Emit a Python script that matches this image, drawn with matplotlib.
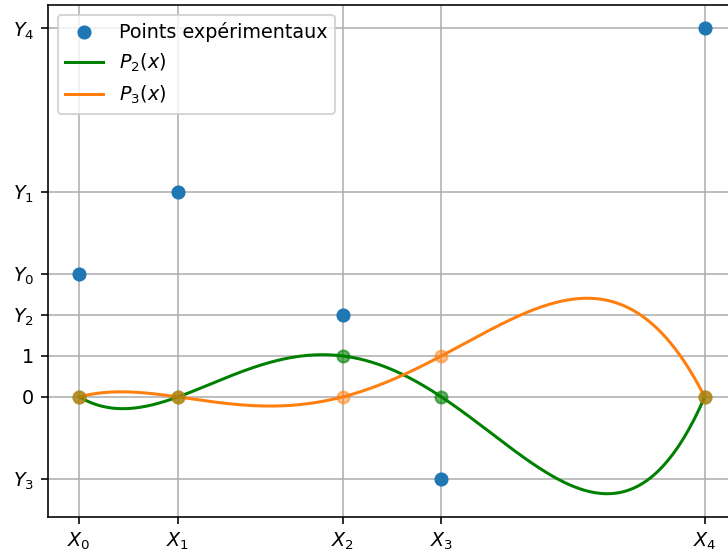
import numpy as np
import matplotlib.pyplot as plt

# noeuds et valeurs mesurees
X = [0, 1.5, 4, 5.5, 9.5]
Y = [3, 5, 2, -2, 9]
x_labels = ['$X_0$', '$X_1$', '$X_2$', '$X_3$', '$X_4$']
y_ticks = [-2, 0, 1, 2, 3, 5, 9]
y_labels = ['$Y_3$', '0', '1', '$Y_2$', '$Y_0$', '$Y_1$', '$Y_4$']


def lagrange(i, t):
    # polynome de base de Lagrange associe au noeud i
    p = np.ones_like(t)
    for j in range(len(X)):
        if j != i:
            p *= (t - X[j]) / (X[i] - X[j])
    return p


plt.rcParams['font.size'] = 9.5

dpi = 145
fig = plt.figure(figsize=(728 / dpi, 554 / dpi), dpi=dpi)
ax = fig.add_axes([48 / 728, 37 / 554, 688 / 728, 512 / 554])

t = np.linspace(X[0], X[-1], 400)
ax.plot(X, Y, 'o', label='Points expérimentaux', zorder=3)
ax.plot(t, lagrange(2, t), color='green', label='$P_2(x)$')
ax.plot(t, lagrange(3, t), color='C1', label='$P_3(x)$')
ax.plot(X, lagrange(2, np.array(X, dtype=float)), 'o', color='green', alpha=0.6)
ax.plot(X, lagrange(3, np.array(X, dtype=float)), 'o', color='C1', alpha=0.5)

ax.set_xticks(X)
ax.set_xticklabels(x_labels)
ax.set_yticks(y_ticks)
ax.set_yticklabels(y_labels)
ax.grid(True)
ax.legend(loc='upper left')

fig.savefig('out.png', dpi=dpi)
